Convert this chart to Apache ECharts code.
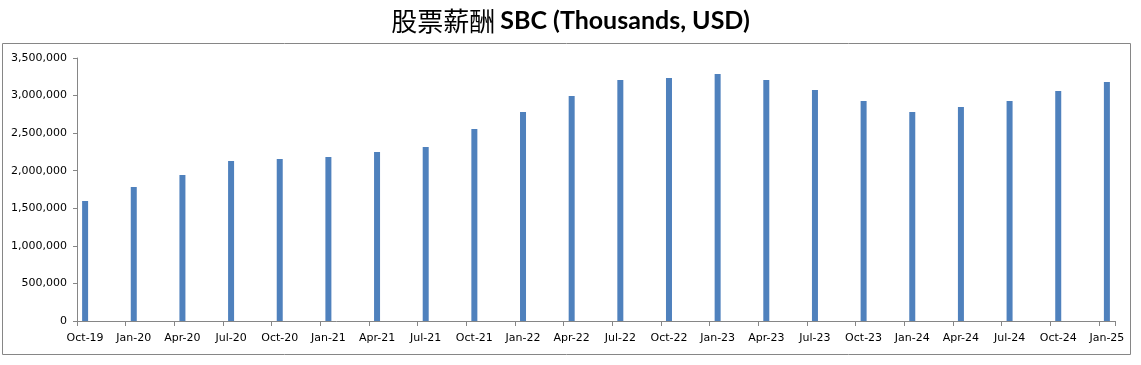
<!DOCTYPE html>
<html>
<head>
<meta charset="utf-8">
<script src="https://cdn.jsdelivr.net/npm/echarts@6/dist/echarts.min.js"></script>
<style>
html,body{margin:0;padding:0;background:#fff;}
#chart{width:1141px;height:365px;}
</style>
</head>
<body>
<div id="chart"></div>
<script>
// Quarterly categories
var categories = ['Oct-19','Jan-20','Apr-20','Jul-20','Oct-20','Jan-21','Apr-21','Jul-21','Oct-21','Jan-22','Apr-22',
  'Jul-22','Oct-22','Jan-23','Apr-23','Jul-23','Oct-23','Jan-24','Apr-24','Jul-24','Oct-24','Jan-25'];
// SBC, thousands USD
var sbcValues = [1597000,1783000,1943000,2129000,2156000,2182000,2249000,2316000,2555000,2781000,2994000,
  3207000,3234000,3287000,3207000,3074000,2928000,2781000,2848000,2928000,3061000,3181000];
var yTicks = {min:0, max:3500000, interval:500000};
var titleCn = '股票薪酬';
var titleEn = 'SBC (Thousands, USD)';

// Excel-style date axis: each quarter occupies 3 monthly slots (last quarter only its first month)
var monthsPerCat = 3;
var slotLabels = [], slotValues = [];
categories.forEach(function(c, i){
  var n = (i === categories.length - 1) ? 1 : monthsPerCat;
  for (var k = 0; k < n; k++) {
    slotLabels.push(k === 0 ? c : '');
    slotValues.push(k === 0 ? sbcValues[i] : '-');
  }
});

var chart = echarts.init(document.getElementById('chart'), null, {renderer:'canvas'});
chart.setOption({
  animation:false,
  backgroundColor:'#ffffff',
  title:{
    text:'{cn|' + titleCn + '} {en|' + titleEn + '}',
    left:'center', top:3,
    textStyle:{
      rich:{
        cn:{fontFamily:'Noto Sans CJK SC', fontSize:26, fontWeight:'normal', color:'#000'},
        en:{fontFamily:'Lato', fontSize:25, fontWeight:'bold', color:'#000'}
      }
    }
  },
  graphic:[{
    type:'rect', shape:{x:2.5, y:43.5, width:1128, height:311},
    style:{fill:'none', stroke:'#868686', lineWidth:1}, silent:true, z:-1
  }],
  grid:{left:77, right:26, top:58, bottom:44, containLabel:false},
  xAxis:{
    type:'category', data:slotLabels, boundaryGap:true,
    axisLine:{lineStyle:{color:'#868686', width:1}},
    axisTick:{show:true, interval:monthsPerCat-1, length:5, lineStyle:{color:'#868686'}},
    axisLabel:{interval:monthsPerCat-1, color:'#000', fontFamily:'DejaVu Sans', fontSize:11, margin:12},
    splitLine:{show:false}
  },
  yAxis:{
    type:'value', min:yTicks.min, max:yTicks.max, interval:yTicks.interval,
    axisLine:{show:true, lineStyle:{color:'#868686', width:1}},
    axisTick:{show:true, length:4, lineStyle:{color:'#868686'}},
    axisLabel:{color:'#000', fontFamily:'DejaVu Sans', fontSize:11, margin:10,
      formatter:function(v){ return v.toLocaleString('en-US'); }},
    splitLine:{show:false}
  },
  series:[{
    type:'bar', data:slotValues, barWidth:6,
    itemStyle:{color:'#4F81BD'}
  }]
});
</script>
</body>
</html>
